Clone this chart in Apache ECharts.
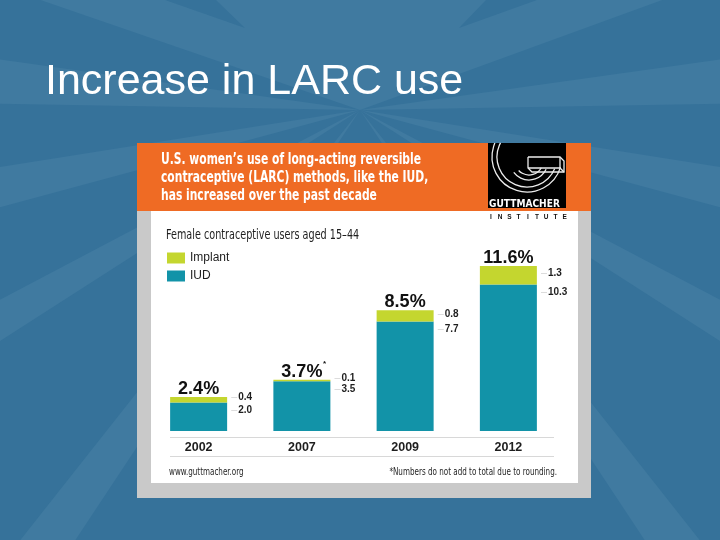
<!DOCTYPE html>
<html>
<head>
<meta charset="utf-8">
<script src="https://cdn.jsdelivr.net/npm/echarts@6/dist/echarts.min.js"></script>
<style>
html,body{margin:0;padding:0;background:#36729a;}
#chart{width:720px;height:540px;}
</style>
</head>
<body>
<div id="chart"></div>
<script>
// ---- data ----
const categories = ['2002', '2007', '2009', '2012'];
const iudValues = [2.0, 3.5, 7.7, 10.3];
const implantValues = [0.4, 0.1, 0.8, 1.3];
const totalValues = [2.4, 3.7, 8.5, 11.6];
const totalNotes = ['', '*', '', ''];
const seriesNames = ['Implant', 'IUD'];

// ---- style ----
const CF = "'DejaVu Sans Condensed', 'Liberation Sans Narrow', sans-serif";
const LS = "'Liberation Sans', Arial, sans-serif";
const IMPLANT_COLOR = '#c4d62f';
const IUD_COLOR = '#1293a8';
const TEXT_DARK = '#1e1e1e';
const BG = '#36729a';
const BG_LIGHT = '#407aa0';

const chart = echarts.init(document.getElementById('chart'), null, {renderer: 'canvas'});

// background sunburst wedges [fromDeg, toDeg]
const CX = 360, CY = 110, R = 1500;
const wedges = [[199, 340], [181, 188], [352, 359],
  [164.9, 171], [147.3, 152.2], [123.5, 128.3], [9, 15.1], [27.8, 32.7], [51.7, 56.5]];
const rays = wedges.map(function (w) {
  const a1 = w[0] * Math.PI / 180, a2 = w[1] * Math.PI / 180;
  return {
    type: 'polygon', z: 0, silent: true,
    shape: {points: [[CX, CY], [CX + R * Math.cos(a1), CY + R * Math.sin(a1)], [CX + R * Math.cos(a2), CY + R * Math.sin(a2)]]},
    style: {fill: BG_LIGHT}
  };
});
// two darker notches at the top edge
const notches = [
  [[165, 0], [216, 0], [245, 28]],
  [[486, 0], [537, 0], [459, 28]]
].map(function (pts) {
  return {type: 'polygon', z: 0, silent: true, shape: {points: pts}, style: {fill: BG}};
});

function hText(txt, x, y, font, color, sx, extra) {
  const st = {text: txt, fill: color, font: font, textVerticalAlign: 'middle'};
  if (extra) Object.assign(st, extra);
  return {type: 'text', z: 3, x: x, y: y, scaleX: sx || 1, silent: true, style: st};
}

const instituteLetters = 'INSTITUTE'.split('').map(function (ch, i) {
  return hText(ch, 491 + i * 9.2, 217, 'bold 6.5px ' + LS, '#111', 1, {textAlign: 'center'});
});

const LOGO_STROKE = {stroke: '#ececec', lineWidth: 1.3, fill: null};

const graphics = [
  {type: 'rect', z: 0, silent: true, shape: {x: 0, y: 0, width: 720, height: 540}, style: {fill: BG}}
].concat(rays).concat(notches).concat([
  // slide title
  {type: 'text', z: 1, left: 45, top: 61, silent: true, style: {text: 'Increase in LARC use', fill: '#ffffff', font: '43px ' + LS}},
  // infographic frame
  {type: 'rect', z: 1, silent: true, shape: {x: 137, y: 143, width: 454, height: 355}, style: {fill: '#c9c9c9'}},
  {type: 'rect', z: 1, silent: true, shape: {x: 151, y: 211, width: 427, height: 272}, style: {fill: '#ffffff'}},
  {type: 'rect', z: 1, silent: true, shape: {x: 137, y: 143, width: 454, height: 68}, style: {fill: '#ef6b24'}},
  // header text
  hText('U.S. women\u2019s use of long-acting reversible', 161, 160, 'bold 15.5px ' + CF, '#fff', 0.77),
  hText('contraceptive (LARC) methods, like the IUD,', 161, 178, 'bold 15.5px ' + CF, '#fff', 0.77),
  hText('has increased over the past decade', 161, 195.5, 'bold 15.5px ' + CF, '#fff', 0.77),
  // logo
  {type: 'rect', z: 2, silent: true, shape: {x: 488, y: 143, width: 78, height: 65}, style: {fill: '#000000'}},
  {type: 'arc', z: 3, silent: true, shape: {cx: 527, cy: 157, r: 35, startAngle: 0.3, endAngle: 3.55, clockwise: true}, style: LOGO_STROKE},
  {type: 'arc', z: 3, silent: true, shape: {cx: 527, cy: 157, r: 30, startAngle: 0.4, endAngle: 3.63, clockwise: true}, style: LOGO_STROKE},
  {type: 'arc', z: 3, silent: true, shape: {cx: 529, cy: 161, r: 19, startAngle: 0.45, endAngle: 2.5, clockwise: true}, style: LOGO_STROKE},
  {type: 'arc', z: 3, silent: true, shape: {cx: 529, cy: 161, r: 14, startAngle: 0.5, endAngle: 2.4, clockwise: true}, style: LOGO_STROKE},
  {type: 'polyline', z: 3, silent: true, shape: {points: [[528, 157], [560, 157], [564, 161], [564, 172], [532, 172], [528, 168], [528, 157]]}, style: LOGO_STROKE},
  {type: 'polyline', z: 3, silent: true, shape: {points: [[528, 168], [560, 168], [564, 172]]}, style: LOGO_STROKE},
  {type: 'polyline', z: 3, silent: true, shape: {points: [[560, 157], [560, 168]]}, style: LOGO_STROKE},
  hText('GUTTMACHER', 489, 204.5, 'bold 10.5px ' + CF, '#fff', 0.96)
]).concat(instituteLetters).concat([
  // subtitle
  hText('Female contraceptive users aged 15\u201344', 166, 235.5, '14.5px ' + CF, TEXT_DARK, 0.74),
  // separators
  {type: 'line', z: 2, silent: true, shape: {x1: 170, y1: 437.5, x2: 554, y2: 437.5}, style: {stroke: '#d8d8d8', lineWidth: 1}},
  {type: 'line', z: 2, silent: true, shape: {x1: 170, y1: 456.5, x2: 554, y2: 456.5}, style: {stroke: '#d8d8d8', lineWidth: 1}},
  // footer
  hText('www.guttmacher.org', 169, 472.5, '10px ' + CF, TEXT_DARK, 0.8),
  {type: 'text', z: 3, x: 557, y: 472.5, scaleX: 0.8, silent: true,
    style: {text: '*Numbers do not add to total due to rounding.', fill: TEXT_DARK, font: '10px ' + CF, textAlign: 'right', textVerticalAlign: 'middle'}}
]);

function sideLabel(v) { return '{d|\u2014}{v|' + v.toFixed(1) + '}'; }
const sideRich = {
  d: {color: '#a8a8a8', fontSize: 6, fontFamily: LS, padding: [0, 1, 0, 0], verticalAlign: 'middle'},
  v: {color: TEXT_DARK, fontSize: 10, fontWeight: 'bold', fontFamily: LS, verticalAlign: 'middle'}
};

const option = {
  animation: false,
  graphic: graphics,
  legend: {
    data: seriesNames,
    orient: 'vertical', left: 167, top: 252, padding: 0,
    itemWidth: 18, itemHeight: 11, itemGap: 6,
    icon: 'rect',
    textStyle: {color: TEXT_DARK, fontSize: 12, fontFamily: LS},
    selectedMode: false
  },
  grid: {left: 147, width: 413, top: 232, height: 199, containLabel: false},
  xAxis: {
    type: 'category', data: categories, z: 6,
    axisLine: {show: false}, axisTick: {show: false}, splitLine: {show: false},
    axisLabel: {margin: 10, color: TEXT_DARK, fontSize: 12.5, fontWeight: 'bold', fontFamily: LS}
  },
  yAxis: {type: 'value', min: 0, max: 14, show: false, splitLine: {show: false}},
  series: [
    {
      name: 'IUD', type: 'bar', stack: 'larc', barWidth: 57, z: 3,
      itemStyle: {color: IUD_COLOR},
      data: iudValues,
      label: {show: true, position: ['100%', 0], offset: [4, 8], align: 'left', verticalAlign: 'middle',
        formatter: function (p) { return sideLabel(p.value); }, rich: sideRich}
    },
    {
      name: 'Implant', type: 'bar', stack: 'larc', barWidth: 57, z: 3,
      itemStyle: {color: IMPLANT_COLOR},
      data: implantValues,
      label: {show: true, position: ['100%', '50%'], offset: [4, -2], align: 'left', verticalAlign: 'middle',
        formatter: function (p) { return sideLabel(p.value); }, rich: sideRich}
    },
    {
      name: 'Total', type: 'custom', z: 6, silent: true,
      data: categories.map(function (c, i) { return [i, iudValues[i] + implantValues[i]]; }),
      renderItem: function (params, api) {
        const i = params.dataIndex;
        const pt = api.coord([api.value(0), api.value(1)]);
        const children = [{
          type: 'text', x: pt[0], y: pt[1] + 1,
          style: {text: totalValues[i].toFixed(1) + '%', fill: '#111', font: 'bold 18px ' + LS,
            textAlign: 'center', textVerticalAlign: 'bottom'}
        }];
        if (totalNotes[i]) {
          children.push({
            type: 'text', x: pt[0] + 21, y: pt[1] - 16,
            style: {text: totalNotes[i], fill: '#111', font: 'bold 8px ' + LS, textAlign: 'left', textVerticalAlign: 'middle'}
          });
        }
        return {type: 'group', children: children};
      }
    }
  ]
};
chart.setOption(option);
</script>
</body>
</html>
